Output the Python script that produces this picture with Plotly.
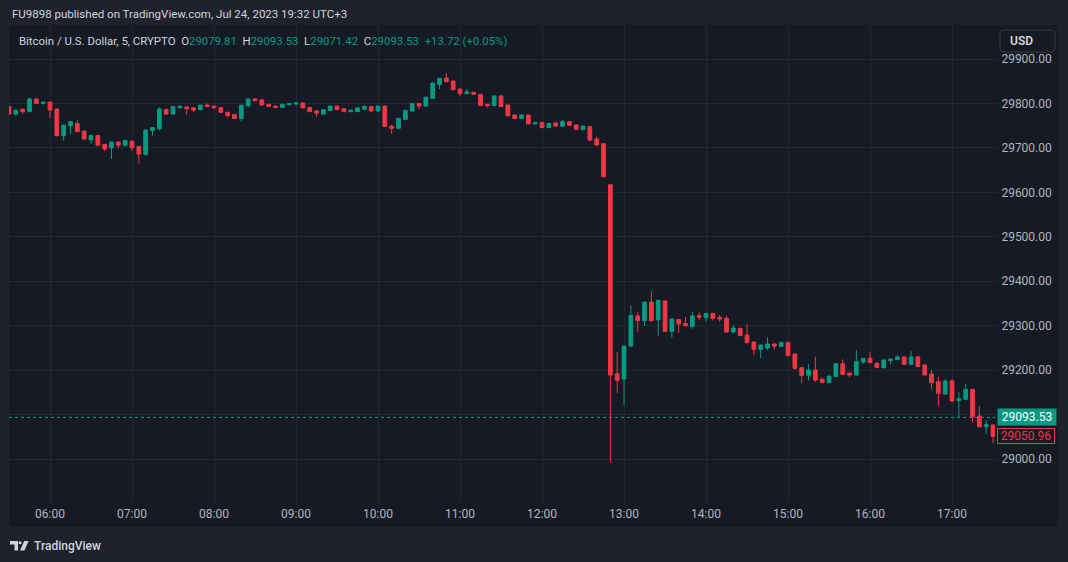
import plotly.graph_objects as go
import pandas as pd

# ---------------- data (BTC/USD, 5-minute candles, Jul 24 2023) ----------------
open_ = [29793, 29776, 29787, 29781.5, 29810, 29800, 29803, 29787.5, 29727.5, 29750,
         29755, 29738, 29718, 29728, 29708, 29700, 29713, 29706, 29715, 29703,
         29685.5, 29739, 29743, 29786, 29776, 29790.5, 29792, 29790, 29786, 29796.5,
         29794, 29790.5, 29780, 29775, 29766, 29795, 29810, 29808, 29798, 29794,
         29791, 29797, 29799, 29801, 29791, 29783, 29776, 29784, 29794, 29788,
         29781.5, 29781.5, 29787, 29793, 29783, 29794, 29749, 29744, 29764, 29783,
         29800, 29794, 29811.5, 29843, 29857, 29850.5, 29832.5, 29822, 29825, 29820.5,
         29798, 29795, 29817, 29796.5, 29774, 29766, 29774, 29754, 29757.5, 29745.5,
         29756, 29748.5, 29759, 29751.5, 29741, 29747.75, 29720, 29709.5, 29617, 29192,
         29180, 29254, 29322, 29311, 29353, 29313, 29355.5, 29287, 29314, 29305,
         29298, 29322.5, 29318, 29327.75, 29318.75, 29316.5, 29285.75, 29294, 29279, 29263.25,
         29246.75, 29249.75, 29258.75, 29253.5, 29261.75, 29236.25, 29205.5, 29188.25, 29200.25, 29179.25,
         29171.75, 29185.25, 29214.5, 29193.5, 29189, 29218.25, 29226.5, 29215.25, 29205.5, 29221.25,
         29223.5, 29229.5, 29213, 29229.5, 29211.5, 29191.25, 29174, 29146.25, 29175.5, 29131.25,
         29134.25, 29156.75, 29096.75, 29072.75, 29076.5]
high = [29796, 29786, 29788, 29813, 29811, 29804, 29804, 29789, 29752, 29760,
        29763, 29739, 29729, 29729, 29709, 29714, 29715, 29718, 29716, 29704,
        29742.5, 29746, 29791, 29788, 29794, 29795, 29793, 29791, 29797, 29800,
        29795, 29791, 29781, 29776, 29797, 29811.5, 29812, 29809, 29799, 29795,
        29799, 29801, 29802, 29802, 29792, 29784, 29787, 29795, 29795, 29789,
        29786, 29791, 29796.5, 29794, 29795, 29795, 29751.5, 29767, 29785, 29801,
        29801, 29815, 29847, 29857, 29868.5, 29851, 29833, 29832.5, 29826, 29821,
        29799, 29818, 29818, 29797, 29775, 29775, 29775, 29759, 29758, 29756,
        29759, 29763, 29760, 29752, 29750, 29749, 29725, 29710, 29618, 29241,
        29255, 29346.5, 29331.5, 29354, 29378, 29358, 29357, 29316, 29315, 29319.5,
        29331.5, 29330, 29329, 29328.5, 29324, 29321.75, 29301.5, 29295, 29303.75, 29264,
        29257, 29273.75, 29259.5, 29264, 29264.75, 29237, 29206, 29213.75, 29230.25, 29183.75,
        29187.5, 29215, 29224.25, 29194, 29245.25, 29227, 29240, 29218.25, 29225.75, 29225.5,
        29234, 29230, 29243, 29231.75, 29213, 29200.25, 29185.25, 29179.25, 29180, 29151.5,
        29168.75, 29157.5, 29119.25, 29087.75, 29077]
low = [29775, 29772, 29776, 29780, 29799, 29798, 29767, 29726, 29716, 29731,
       29735, 29719, 29709, 29705, 29693, 29675, 29699, 29703, 29693, 29665,
       29682.5, 29727.5, 29739, 29775, 29775, 29789, 29774, 29780, 29785, 29792,
       29789, 29779, 29768, 29765, 29759, 29790.5, 29805, 29796, 29793, 29790,
       29790, 29796, 29795, 29789, 29781, 29770, 29775, 29783, 29785, 29781,
       29780, 29781, 29786, 29782, 29782, 29747, 29731, 29743, 29763, 29782,
       29787, 29793, 29810, 29832.5, 29848, 29830, 29817.5, 29821, 29820, 29794,
       29790.5, 29794, 29792, 29769.5, 29765, 29765, 29753, 29753, 29745, 29745,
       29748, 29748, 29750, 29741, 29740, 29714, 29706, 29634, 28992, 29149,
       29121.5, 29252, 29287, 29299, 29310, 29277.5, 29286, 29273, 29283.5, 29299,
       29293, 29313, 29309, 29311.25, 29309, 29285, 29282.75, 29277, 29260, 29234,
       29226.5, 29245, 29246.75, 29253, 29230.25, 29200.25, 29171.75, 29177, 29173.25, 29171,
       29171, 29184.5, 29190, 29183.75, 29188, 29213.75, 29216, 29205, 29203.25, 29213,
       29223, 29212.5, 29212.5, 29207, 29188.5, 29156.75, 29120, 29144, 29128.25, 29093,
       29133.5, 29081.75, 29071, 29056.25, 29035.25]
close = [29776, 29784.5, 29781.5, 29810, 29800, 29803, 29785, 29727.5, 29751.5, 29759,
         29736.5, 29720, 29728, 29706, 29697.5, 29713, 29706, 29717, 29700.5, 29686,
         29740, 29745.5, 29787.5, 29776, 29793, 29794, 29788, 29785, 29796, 29793,
         29790, 29780, 29772.5, 29766, 29796, 29810, 29806, 29796.5, 29793.5, 29791,
         29798, 29799.5, 29801, 29790, 29781.5, 29778, 29786, 29794, 29786, 29781.5,
         29785, 29790, 29793, 29783, 29794, 29748, 29744, 29766.5, 29784.5, 29800,
         29794, 29814, 29846, 29856.5, 29849, 29831, 29822, 29826, 29820.5, 29795,
         29795, 29817, 29793, 29772.5, 29766, 29774, 29754, 29757, 29745.5, 29755,
         29749, 29759, 29751, 29742, 29749, 29717.75, 29706.5, 29635, 29189, 29177,
         29254, 29323, 29311, 29353, 29311, 29357, 29287, 29315, 29304, 29300,
         29322, 29319, 29327.75, 29316.5, 29315, 29285.75, 29294.75, 29277.5, 29261.75, 29246.75,
         29256.5, 29258.75, 29254.25, 29261.75, 29233.25, 29204, 29188.25, 29200.25, 29177.75, 29171.75,
         29186.75, 29214.5, 29190.5, 29189, 29219, 29226.5, 29216.75, 29205.5, 29222.75, 29225,
         29229.5, 29213, 29229.5, 29207.75, 29189, 29171.75, 29147.75, 29175.5, 29130.5, 29135.75,
         29156.75, 29095.25, 29072.75, 29077.25, 29050.96]
times = pd.date_range("2023-07-24 05:30", periods=len(close), freq="5min")

hour_ticks = pd.date_range("2023-07-24 06:00", "2023-07-24 17:00", freq="1h")
hour_labels = [t.strftime("%H:%M") for t in hour_ticks]
price_ticks = [29000, 29100, 29200, 29300, 29400, 29500, 29600, 29700, 29800, 29900]
hidden_price_labels = [29100]  # covered by the last-price label in the reference
price_labels = ["" if p in hidden_price_labels else f"{p:.2f}" for p in price_ticks]

last_price = 29093.53
bar_close = 29050.96
hdr_o, hdr_h, hdr_l, hdr_c = "29079.81", "29093.53", "29071.42", "29093.53"
hdr_chg = "+13.72 (+0.05%)"

# ---------------- style ----------------
UP = "#089981"
DN = "#f23645"
PANE = "#161a25"
OUTER = "#1f222c"
GRID = "#232733"
TXT = "#d1d4dc"
AXT = "#b2b5be"
FONT = "Roboto"

W, H = 1068, 562
L, R, T, B = 9, 995, 26, 500


def px(x):
    return (x - L) / (R - L)


def py(y):
    return (B - y) / (B - T)


fig = go.Figure(go.Candlestick(
    x=times, open=open_, high=high, low=low, close=close,
    increasing=dict(line=dict(color=UP, width=1), fillcolor=UP),
    decreasing=dict(line=dict(color=DN, width=1), fillcolor=DN),
    whiskerwidth=0, hoverinfo="skip", showlegend=False))

shapes = []
# chart pane (includes axis areas)
shapes.append(dict(type="rect", xref="paper", yref="paper", x0=px(9), x1=px(1058),
                   y0=py(527), y1=py(25), fillcolor=PANE, line=dict(width=0), layer="below"))
# last price dotted line
shapes.append(dict(type="line", xref="paper", yref="y", x0=0, x1=1, y0=last_price, y1=last_price,
                   line=dict(color=UP, width=1, dash="dot")))


def rrect(x0, y0, x1, y1, r):
    pts = [("M", x0 + r, y0), ("L", x1 - r, y0), ("Q", x1, y0, x1, y0 + r), ("L", x1, y1 - r),
           ("Q", x1, y1, x1 - r, y1), ("L", x0 + r, y1), ("Q", x0, y1, x0, y1 - r),
           ("L", x0, y0 + r), ("Q", x0, y0, x0 + r, y0)]
    s = ""
    for p in pts:
        if p[0] == "Q":
            s += f"Q{px(p[1]):.5f},{py(p[2]):.5f} {px(p[3]):.5f},{py(p[4]):.5f} "
        else:
            s += f"{p[0]}{px(p[1]):.5f},{py(p[2]):.5f} "
    return s + "Z"


# USD button
shapes.append(dict(type="path", xref="paper", yref="paper", path=rrect(1000, 30, 1055, 52, 4),
                   fillcolor=PANE, line=dict(color="#363a45", width=1), layer="above"))


def poly(points):
    s = "M" + " L".join(f"{px(x):.5f},{py(y):.5f}" for x, y in points) + " Z"
    return s


# TradingView logo
shapes.append(dict(type="path", xref="paper", yref="paper",
                   path=poly([(10, 541), (18, 541), (18, 550.5), (14.5, 550.5), (14.5, 544.5), (10, 544.5)]),
                   fillcolor=TXT, line=dict(width=0)))
shapes.append(dict(type="circle", xref="paper", yref="paper", x0=px(18.6), x1=px(21.6),
                   y0=py(544.3), y1=py(541.3), fillcolor=TXT, line=dict(width=0)))
shapes.append(dict(type="path", xref="paper", yref="paper",
                   path=poly([(24.2, 541), (28.6, 541), (24.4, 550.5), (20.0, 550.5)]),
                   fillcolor=TXT, line=dict(width=0)))

G = f"<span style='color:{UP}'>"
legend_txt = (f"Bitcoin / U.S. Dollar, 5, CRYPTO  O{G}{hdr_o}</span>  H{G}{hdr_h}</span>  "
              f"L{G}{hdr_l}</span>  C{G}{hdr_c}</span>  {G}{hdr_chg}</span>")

annotations = [
    dict(text="FU9898 published on TradingView.com, Jul 24, 2023 19:32 UTC+3", xref="paper", yref="paper",
         x=px(10), y=py(14), xanchor="left", yanchor="middle", showarrow=False,
         font=dict(family=FONT, size=11.5, color=TXT)),
    dict(text=legend_txt, xref="paper", yref="paper", x=px(17), y=py(41), xanchor="left", yanchor="middle",
         showarrow=False, font=dict(family=FONT, size=11.4, color=TXT)),
    dict(text="USD", xref="paper", yref="paper", x=px(1008), y=py(41), xanchor="left", yanchor="middle",
         showarrow=False, font=dict(family=FONT, size=12, color=TXT, weight=600)),
    dict(text=f"{last_price:.2f}", xref="paper", yref="y", x=1, y=last_price, xanchor="left",
         yanchor="middle", xshift=2, showarrow=False, bgcolor=UP, borderpad=1, width=56, height=14,
         font=dict(family=FONT, size=12, color="#ffffff")),
    dict(text=f"{bar_close:.2f}", xref="paper", yref="y", x=1, y=bar_close, xanchor="left",
         yanchor="middle", xshift=2, showarrow=False, bgcolor=PANE, bordercolor=DN, borderwidth=1,
         borderpad=0, width=56, height=14, font=dict(family=FONT, size=12, color=DN)),
    dict(text="TradingView", xref="paper", yref="paper", x=px(32), y=py(546), xanchor="left",
         yanchor="middle", showarrow=False, font=dict(family=FONT, size=12, color=TXT, weight=500)),
]

fig.update_layout(
    width=W, height=H,
    margin=dict(l=L, r=W - R, t=T, b=H - B, pad=0),
    paper_bgcolor=OUTER, plot_bgcolor=PANE,
    boxgap=0.22,
    font=dict(family=FONT, size=12, color=AXT),
    shapes=shapes, annotations=annotations,
    showlegend=False,
    xaxis=dict(type="date", range=["2023-07-24 05:30:00", "2023-07-24 17:31:26"],
               rangeslider=dict(visible=False), tickvals=hour_ticks, ticktext=hour_labels,
               showgrid=True, gridcolor=GRID, gridwidth=1, zeroline=False, showline=False,
               ticks="outside", ticklen=3, tickcolor=GRID, tickfont=dict(family=FONT, size=12, color=AXT)),
    yaxis=dict(side="right", range=[28907.75, 29974.25], tickvals=price_ticks, ticktext=price_labels,
               showgrid=True, gridcolor=GRID, gridwidth=1, zeroline=False, showline=False,
               ticks="outside", ticklen=3, tickcolor=GRID, tickfont=dict(family=FONT, size=12, color=AXT)),
)

fig.write_html("out.html", config={"displayModeBar": False},
               post_script="document.body.style.margin='0';document.body.style.padding='0';")
